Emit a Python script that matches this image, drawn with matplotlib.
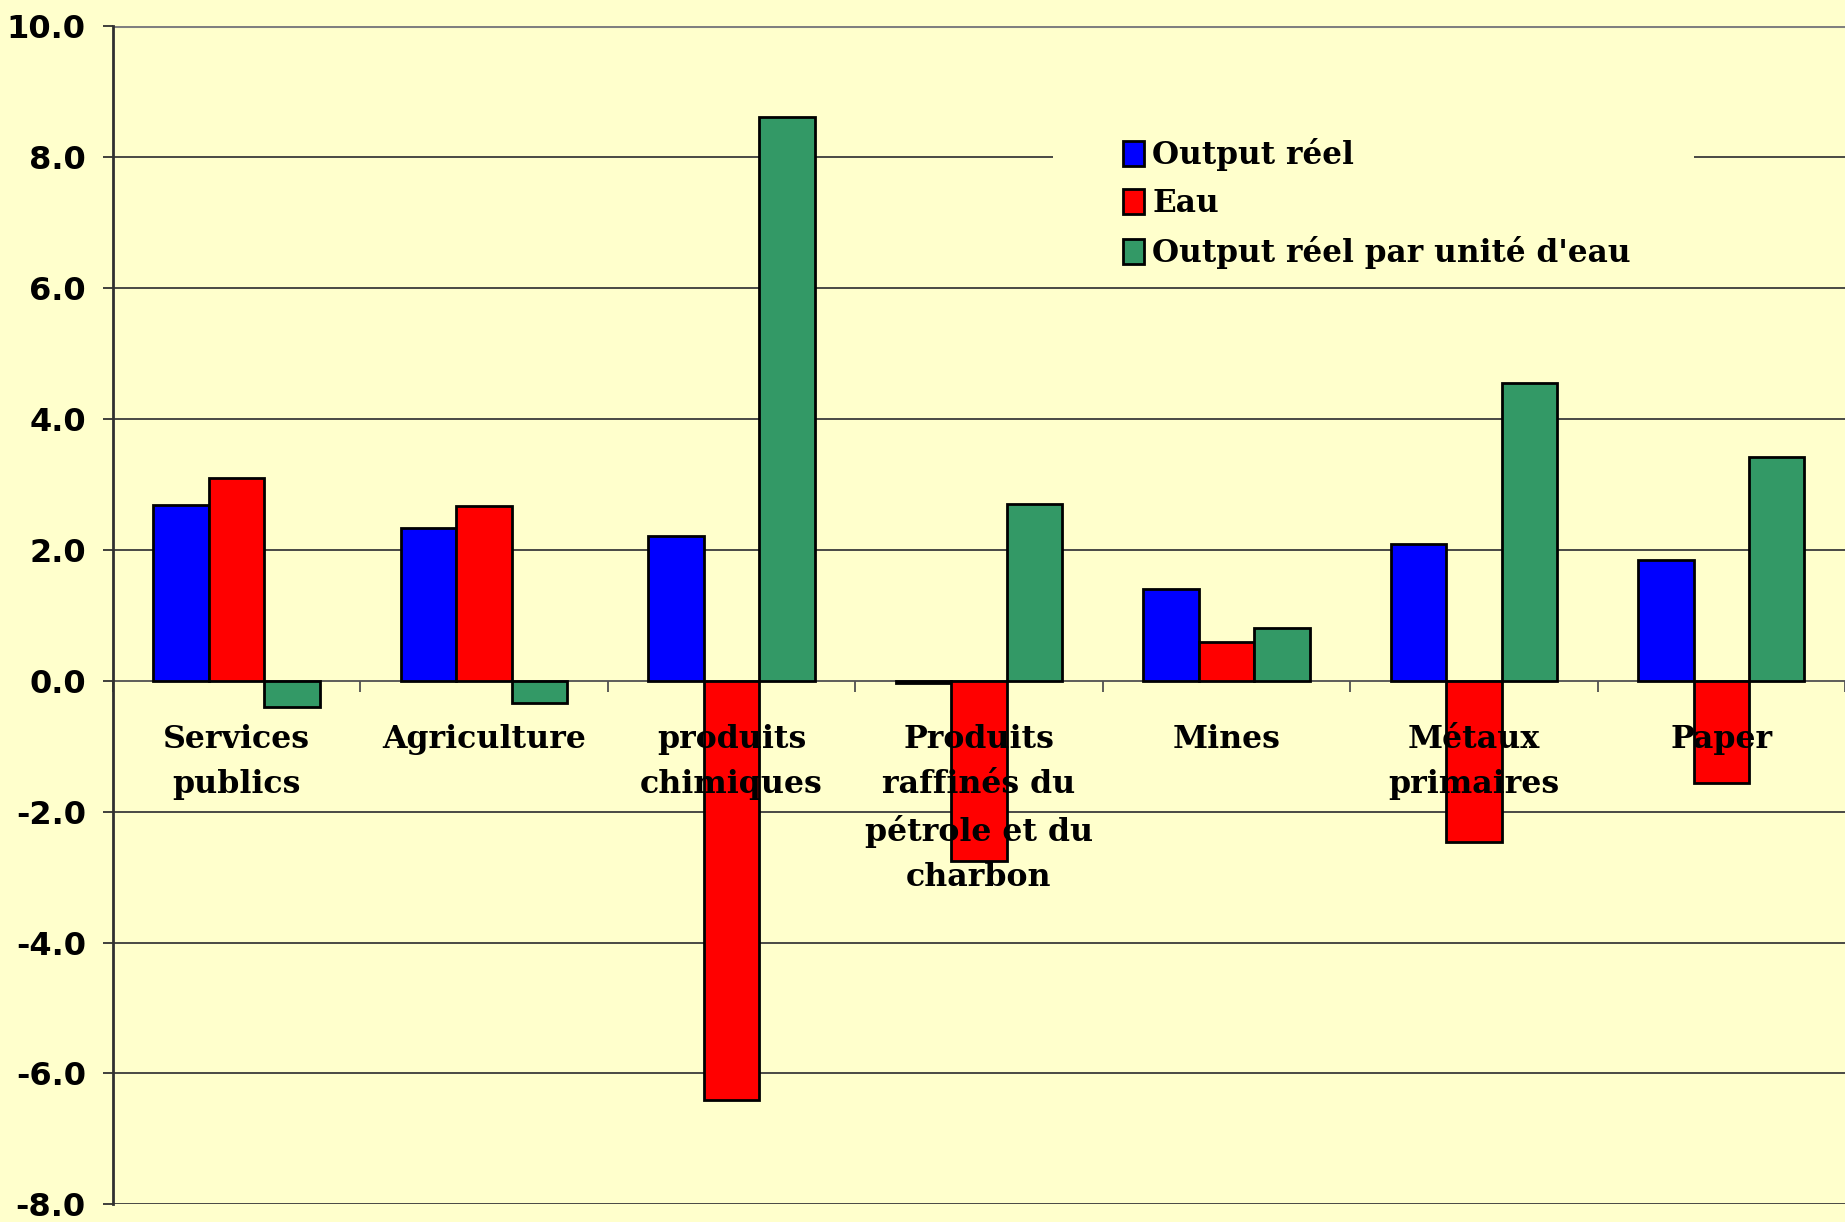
import matplotlib
matplotlib.use("Agg")
import matplotlib.pyplot as plt
import numpy as np
from matplotlib.patches import Rectangle

categories = ["Services\npublics", "Agriculture", "produits\nchimiques",
              "Produits\nraffinés du\npétrole et du\ncharbon", "Mines",
              "Métaux\nprimaires", "Paper"]
series_names = ["Output réel", "Eau", "Output réel par unité d'eau"]
output_reel = [2.69, 2.33, 2.21, -0.03, 1.40, 2.08, 1.84]
eau = [3.09, 2.66, -6.41, -2.75, 0.59, -2.46, -1.56]
output_par_eau = [-0.40, -0.34, 8.61, 2.70, 0.81, 4.54, 3.42]
y_ticks = [-8, -6, -4, -2, 0, 2, 4, 6, 8, 10]

colors = ["#0000FF", "#FF0000", "#339966"]
bg = "#FFFFCC"

fig = plt.figure(figsize=(18.45, 12.22), dpi=100, facecolor=bg)
ax = fig.add_axes([0.0612, 0.0144, 0.9388, 0.9644], facecolor=bg)

x = np.arange(len(categories))
w = 0.224
for k, (vals, c, name) in enumerate(zip([output_reel, eau, output_par_eau], colors, series_names)):
    ax.bar(x + (k - 1) * w, vals, width=w, color=c, edgecolor="black",
           linewidth=2.0, label=name, zorder=3)

ax.set_xlim(-0.5, len(categories) - 0.5)
ax.set_ylim(-8, 10)
ax.set_yticks(y_ticks)
ax.set_yticklabels([f"{v:.1f}" for v in y_ticks], fontfamily="DejaVu Sans",
                   fontweight="bold", fontsize=23)
for v in y_ticks:
    if v != 0:
        ax.axhline(v, color="#3a3a3a" if v != 10 else "#808080",
                   linewidth=1.3 if v != 10 else 2.2, zorder=1)

# legend background hides part of the 8.0 gridline
ax.add_patch(Rectangle((0.571, 0.855), 0.347, 0.035, transform=fig.transFigure,
                       facecolor=bg, edgecolor="none", zorder=1.5))

ax.spines["top"].set_visible(False)
ax.spines["right"].set_visible(False)
ax.spines["left"].set_color("#303030")
ax.spines["left"].set_linewidth(2.0)
ax.spines["bottom"].set_position(("data", 0))
ax.spines["bottom"].set_color("#505050")
ax.spines["bottom"].set_linewidth(1.3)
ax.spines["bottom"].set_zorder(2)
ax.tick_params(axis="y", direction="out", length=7.5, width=1.3, color="#303030", pad=12)
ax.set_xticks(np.arange(len(categories) + 1) - 0.5)
ax.set_xticklabels([])
ax.tick_params(axis="x", direction="out", length=8, width=1.3, color="#505050")

for i, lab in enumerate(categories):
    ax.annotate(lab, xy=(i, 0), xytext=(0, -31), textcoords="offset points",
                ha="center", va="top", multialignment="center",
                fontfamily="DejaVu Serif", fontweight="bold", fontsize=22.8,
                linespacing=1.58, zorder=5)

leg = fig.legend(loc="upper left", bbox_to_anchor=(0.6085, 0.887),
                 prop={"family": "DejaVu Serif", "weight": "bold", "size": 22.4},
                 frameon=False, handlelength=0.7, handleheight=0.85,
                 handletextpad=0.25, labelspacing=0.55, borderpad=0,
                 borderaxespad=0)
leg.set_zorder(10)

fig.savefig("out.png", dpi=100, facecolor=bg)
